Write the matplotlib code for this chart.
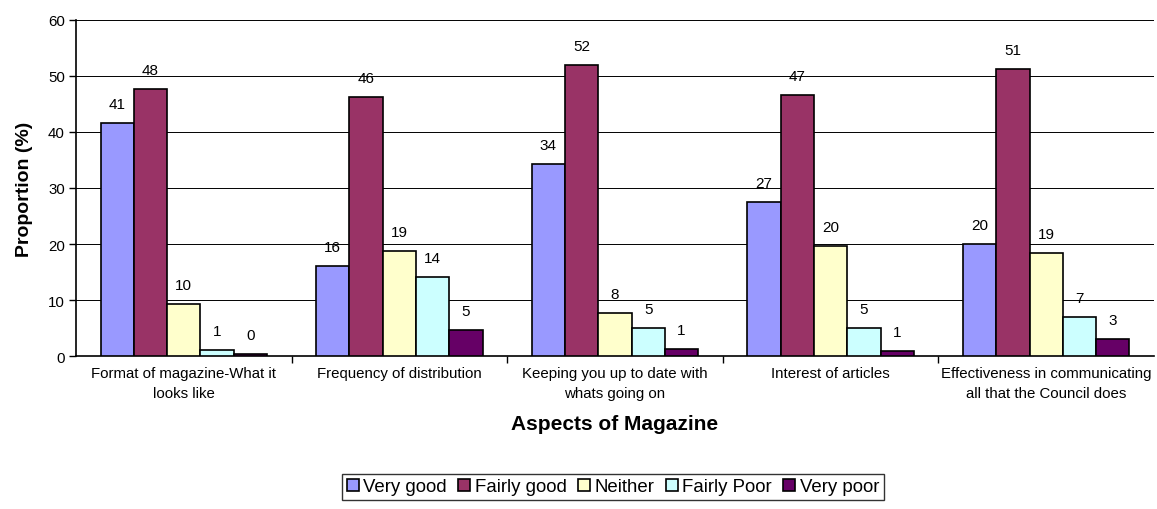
import matplotlib.pyplot as plt
import numpy as np

plt.rcParams['font.family'] = ['Liberation Sans', 'DejaVu Sans']

categories = ['Format of magazine-What it\nlooks like',
              'Frequency of distribution',
              'Keeping you up to date with\nwhats going on',
              'Interest of articles',
              'Effectiveness in communicating\nall that the Council does']
series = ['Very good', 'Fairly good', 'Neither', 'Fairly Poor', 'Very poor']
colors = ['#9999FF', '#993366', '#FFFFCC', '#CCFFFF', '#660066']

values = [
    [41.6, 16.1, 34.2, 27.5, 20.1],   # Very good
    [47.6, 46.3, 51.9, 46.6, 51.3],   # Fairly good
    [9.4, 18.8, 7.7, 19.7, 18.4],     # Neither
    [1.1, 14.1, 5.0, 5.0, 7.0],       # Fairly Poor
    [0.35, 4.7, 1.3, 0.95, 3.0],      # Very poor
]
labels = [
    ['41', '16', '34', '27', '20'],
    ['48', '46', '52', '47', '51'],
    ['10', '19', '8', '20', '19'],
    ['1', '14', '5', '5', '7'],
    ['0', '5', '1', '1', '3'],
]

fig = plt.figure(figsize=(11.57, 5.10), dpi=100)
ax = fig.add_axes([76/1157, 1 - 357.3/510, 1078/1157, (357.3 - 20.7)/510])

x = np.arange(len(categories))
w = 0.1545
for i, (name, col) in enumerate(zip(series, colors)):
    pos = x + (i - 2) * w
    bars = ax.bar(pos, values[i], w, color=col, edgecolor='black', linewidth=1.2,
                  label=name, zorder=3)
    for b, lab in zip(bars, labels[i]):
        ax.annotate(lab, (b.get_x() + b.get_width() / 2, b.get_height()),
                    xytext=(0, 19), textcoords='offset pixels',
                    ha='center', va='center', fontsize=11)

ax.set_xlim(-0.5, len(categories) - 0.5)
ax.set_ylim(0, 60)
ax.set_yticks(range(0, 61, 10))
ax.yaxis.grid(True, color='black', linewidth=0.7, zorder=0)
ax.set_axisbelow(True)

ax.set_xticks(x)
ax.set_xticklabels(categories, fontsize=10.8, linespacing=1.55)
ax.tick_params(axis='x', length=0, pad=7)
ax.set_xticks(np.arange(0.5, len(categories) - 0.5, 1), minor=True)
ax.tick_params(axis='x', which='minor', length=5, width=1, direction='out')
ax.tick_params(axis='y', labelsize=10.8, length=5, width=1, direction='out', pad=3)

for s in ['top', 'right']:
    ax.spines[s].set_visible(False)
for s in ['left', 'bottom']:
    ax.spines[s].set_linewidth(1.2)

ax.set_ylabel('Proportion (%)', fontsize=14, fontweight='bold', labelpad=11)
ax.set_xlabel('Aspects of Magazine', fontsize=15, fontweight='bold', labelpad=10)

leg = fig.legend(loc='center', bbox_to_anchor=(613/1157, 1 - 488/510), ncol=5,
                 fontsize=13.4, frameon=True, fancybox=False, edgecolor='black',
                 handlelength=0.65, handleheight=0.65, handletextpad=0.25,
                 columnspacing=0.6, borderpad=0.25, borderaxespad=0)
leg.get_frame().set_linewidth(1)

fig.savefig('out.png', dpi=100)
